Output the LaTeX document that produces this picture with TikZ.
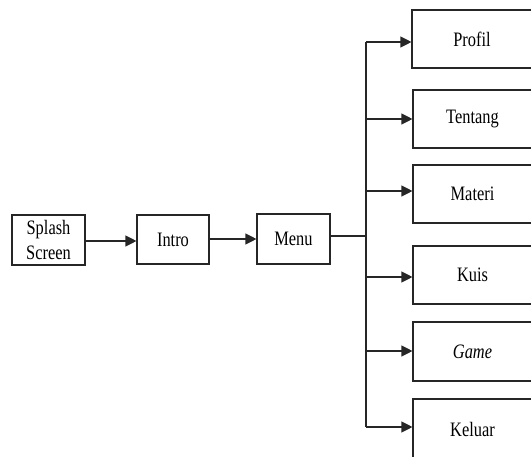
\documentclass[tikz,border=0pt]{standalone}
\usepackage{fontspec}
\setmainfont{Liberation Serif}[FakeStretch=0.8]
\usetikzlibrary{arrows.meta}
\begin{document}
\begin{tikzpicture}[x=1pt,y=-1pt,
  box/.style={draw=black!85,line width=1.1pt,rectangle,inner sep=0pt,
    font=\fontsize{20.5}{25}\selectfont,align=center},
  link/.style={draw=black!85,line width=1.1pt},
  arr/.style={link,-{Triangle[length=11pt,width=11pt]}}]
\useasboundingbox (0,0) rectangle (531,457);
\clip (0,0) rectangle (531,457);
% main chain
\node[box,minimum width=73pt,minimum height=50pt] (splash) at (48.5,240) {Splash\\Screen};
\node[box,minimum width=72pt,minimum height=49pt] (intro) at (173,239.5) {Intro};
\node[box,minimum width=73pt,minimum height=50pt] (menu) at (293.5,239) {Menu};
% menu entries (right side runs past the page edge)
\node[box,minimum width=120pt,minimum height=58pt] (profil) at (472,39) {Profil};
\node[box,minimum width=119pt,minimum height=58pt] (tentang) at (472.5,119) {Tentang};
\node[box,minimum width=119pt,minimum height=58pt] (materi) at (472.5,194) {Materi};
\node[box,minimum width=119pt,minimum height=58pt] (kuis) at (472.5,275) {Kuis};
\node[box,minimum width=119pt,minimum height=59pt] (game) at (472.5,351.5) {\itshape Game};
\node[box,minimum width=119pt,minimum height=60pt] (keluar) at (472.5,429) {Keluar};
% trunk
\coordinate (t1) at (366,42);
\coordinate (t2) at (366,119);
\coordinate (t3) at (366,191);
\coordinate (t4) at (366,277);
\coordinate (t5) at (366,351);
\coordinate (t6) at (366,427);
\coordinate (tm) at (366,236);
% connectors
\draw[arr] (splash.east |- 0,241) -- (intro.west |- 0,241);
\draw[arr] (intro.east |- 0,239) -- (menu.west |- 0,239);
\draw[link] (menu.east |- tm) -- (tm);
\draw[link] (t1) -- (t6);
\draw[arr] (t1) -- (t1 -| profil.west);
\draw[arr] (t2) -- (t2 -| tentang.west);
\draw[arr] (t3) -- (t3 -| materi.west);
\draw[arr] (t4) -- (t4 -| kuis.west);
\draw[arr] (t5) -- (t5 -| game.west);
\draw[arr] (t6) -- (t6 -| keluar.west);
\end{tikzpicture}
\end{document}
